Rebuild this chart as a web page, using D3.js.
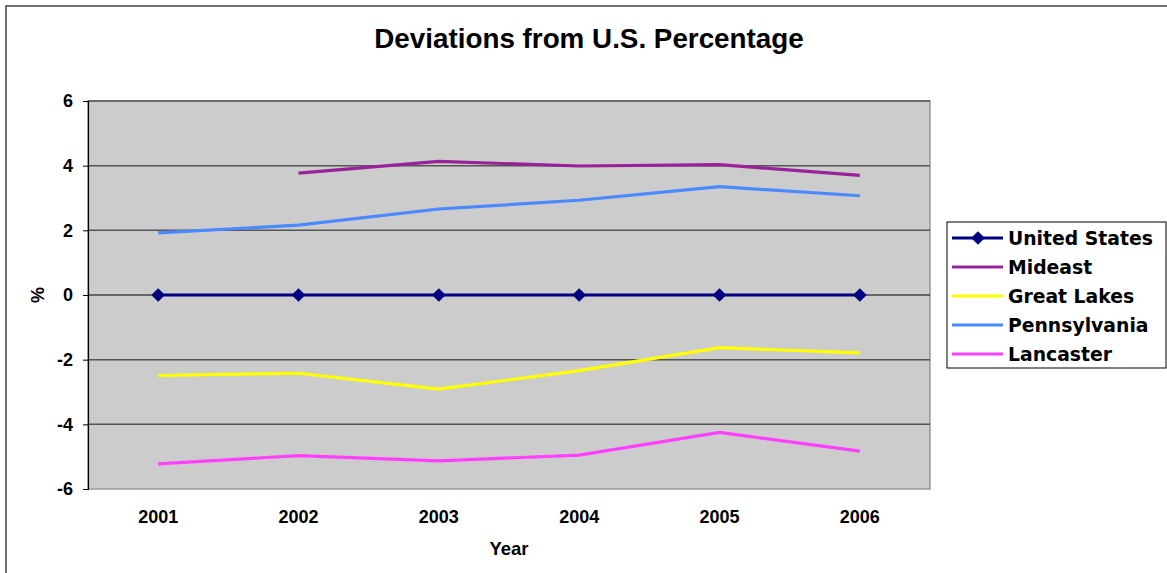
<!DOCTYPE html>
<html>
<head>
  <meta charset="utf-8">
  <script src="https://d3js.org/d3.v7.min.js"></script>
  <style>
    body { margin: 0; background: #fff; }
    svg text { font-family: Arial, "Liberation Sans", sans-serif; font-weight: bold; fill: #000; }
    .grid line { stroke: #555; stroke-width: 1.5px; }
    .axis text { font-size: 18px; }
    .legend text { font-family: "DejaVu Sans", Verdana, sans-serif; font-size: 18.8px; }
  </style>
</head>
<body>
  <svg width="1167" height="573"></svg>
  <script>
    const width = 1167, height = 573;

    const years = ["2001", "2002", "2003", "2004", "2005", "2006"];
    const yTicks = [-6, -4, -2, 0, 2, 4, 6];

    const unitedStates = [0, 0, 0, 0, 0, 0];
    const mideast = [null, 3.77, 4.13, 3.99, 4.03, 3.70];
    const greatLakes = [-2.49, -2.42, -2.91, -2.34, -1.63, -1.79];
    const pennsylvania = [1.92, 2.16, 2.66, 2.93, 3.35, 3.07];
    const lancaster = [-5.22, -4.97, -5.13, -4.95, -4.25, -4.83];

    const series = [
      { name: "United States", values: unitedStates, color: "#000080", marker: true },
      { name: "Mideast", values: mideast, color: "#99229a" },
      { name: "Great Lakes", values: greatLakes, color: "#ffff00" },
      { name: "Pennsylvania", values: pennsylvania, color: "#4b89ff" },
      { name: "Lancaster", values: lancaster, color: "#ff40ff" }
    ];

    const plot = { left: 88, top: 101, right: 930, bottom: 489 };

    const svg = d3.select("svg");

    // chart outer border
    svg.append("rect")
      .attr("x", 6).attr("y", 6)
      .attr("width", 1170).attr("height", 580)
      .attr("fill", "none").attr("stroke", "#444").attr("stroke-width", 1.5);

    const x = d3.scaleBand().domain(years).range([plot.left, plot.right]);
    const y = d3.scaleLinear().domain([-6, 6]).range([plot.bottom, plot.top]);

    svg.append("rect")
      .attr("x", plot.left).attr("y", plot.top)
      .attr("width", plot.right - plot.left).attr("height", plot.bottom - plot.top)
      .attr("fill", "#cccccc").attr("stroke", "#999").attr("stroke-width", 1.5);

    svg.append("g").attr("class", "grid")
      .selectAll("line")
      .data(yTicks.filter(d => d !== 0 && d !== -6))
      .enter().append("line")
      .attr("x1", plot.left).attr("x2", plot.right)
      .attr("y1", d => y(d)).attr("y2", d => y(d));

    // value axis
    const yAxis = svg.append("g").attr("class", "axis")
      .attr("transform", `translate(${plot.left},0)`)
      .call(d3.axisLeft(y).tickValues(yTicks).tickSize(5).tickPadding(10).tickFormat(d => String(d)));
    yAxis.attr("font-family", null).attr("font-size", null);
    yAxis.select(".domain").attr("stroke", "#000").attr("stroke-width", 1.2);
    yAxis.selectAll(".tick line").attr("stroke", "#000");

    // category axis crosses at zero
    svg.append("line")
      .attr("x1", plot.left).attr("x2", plot.right)
      .attr("y1", y(0)).attr("y2", y(0))
      .attr("stroke", "#000").attr("stroke-width", 1.2);

    svg.append("g").attr("class", "axis")
      .selectAll("text")
      .data(years)
      .enter().append("text")
      .attr("x", d => x(d) + x.bandwidth() / 2)
      .attr("y", 523)
      .attr("text-anchor", "middle")
      .text(d => d);

    const line = d3.line()
      .defined(d => d != null)
      .x((d, i) => x(years[i]) + x.bandwidth() / 2)
      .y(d => y(d));

    // draw in reverse so United States is on top
    series.slice().reverse().forEach(s => {
      svg.append("path")
        .datum(s.values)
        .attr("fill", "none")
        .attr("stroke", s.color)
        .attr("stroke-width", 3.2)
        .attr("d", line);
      if (s.marker) {
        svg.selectAll(null)
          .data(s.values)
          .enter().append("path")
          .attr("d", d3.symbol(d3.symbolDiamond2, 120))
          .attr("transform", (d, i) => `translate(${x(years[i]) + x.bandwidth() / 2},${y(d)})`)
          .attr("fill", s.color);
      }
    });

    svg.append("text")
      .attr("x", 589).attr("y", 48)
      .attr("text-anchor", "middle")
      .attr("font-size", 27.8)
      .text("Deviations from U.S. Percentage");

    svg.append("text")
      .attr("transform", `translate(44,${y(0)}) rotate(-90)`)
      .attr("text-anchor", "middle")
      .attr("font-size", 18)
      .text("%");

    svg.append("text")
      .attr("x", 509).attr("y", 555)
      .attr("text-anchor", "middle")
      .attr("font-size", 18.5)
      .text("Year");

    // legend
    const legend = svg.append("g").attr("class", "legend");
    legend.append("rect")
      .attr("x", 947).attr("y", 222)
      .attr("width", 219).attr("height", 146)
      .attr("fill", "#fff").attr("stroke", "#000").attr("stroke-width", 1);

    const item = legend.selectAll("g.item")
      .data(series)
      .enter().append("g")
      .attr("transform", (d, i) => `translate(952,${238 + i * 29})`);
    item.append("line")
      .attr("x1", 0).attr("x2", 51)
      .attr("stroke", d => d.color).attr("stroke-width", 3.2);
    item.filter(d => d.marker).append("path")
      .attr("d", d3.symbol(d3.symbolDiamond2, 120))
      .attr("transform", "translate(26,0)")
      .attr("fill", d => d.color);
    item.append("text")
      .attr("x", 56).attr("dy", "0.36em")
      .text(d => d.name);
  </script>
</body>
</html>
